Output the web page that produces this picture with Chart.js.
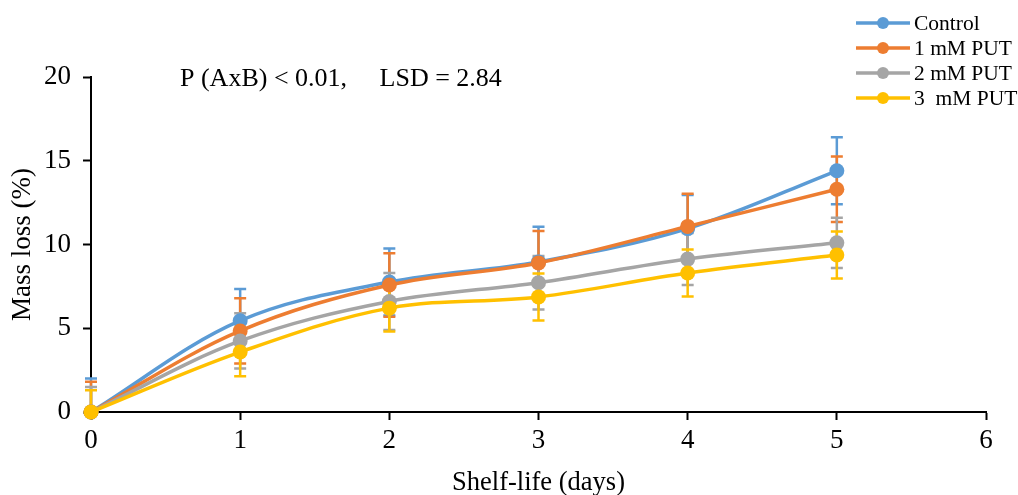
<!DOCTYPE html>
<html>
<head>
<meta charset="utf-8">
<script src="https://cdn.jsdelivr.net/npm/chart.js@4.4.1/dist/chart.umd.min.js"></script>
<style>
  html, body { margin: 0; padding: 0; background: #fff; }
  #wrap { width: 1018px; height: 495px; }
</style>
</head>
<body>
<div id="wrap"><canvas id="chart1"></canvas></div>
<script>
// Shelf-life days and mass loss (%) per treatment
const days = [0, 1, 2, 3, 4, 5];
const seriesNames = ["Control", "1 mM PUT", "2 mM PUT", "3  mM PUT"];
const control = [0, 5.45, 7.76, 8.96, 10.95, 14.4];
const put1 = [0, 4.84, 7.58, 8.9, 11.08, 13.3];
const put2 = [0, 4.24, 6.6, 7.72, 9.13, 10.1];
const put3 = [0, 3.58, 6.2, 6.87, 8.3, 9.37];
// error bar half-widths (±)
const controlErr = [2.0, 1.9, 2.0, 2.1, 2.0, 2.0];
const put1Err = [1.8, 1.95, 1.9, 1.9, 1.95, 1.95];
const put2Err = [1.5, 1.65, 1.7, 1.6, 1.55, 1.5];
const put3Err = [1.3, 1.45, 1.4, 1.4, 1.4, 1.4];
const yTicks = [0, 5, 10, 15, 20];
const xTicks = [0, 1, 2, 3, 4, 5, 6];
const statsNote = "P (AxB) < 0.01,     LSD = 2.84";

const colors = ["#5B9BD5", "#ED7D31", "#A5A5A5", "#FFC000"];
const values = [control, put1, put2, put3];
const errors = [controlErr, put1Err, put2Err, put3Err];
const serif = "'Liberation Serif', 'Times New Roman', serif";

// later series sit on top of earlier ones
const datasets = values.map((vals, i) => ({
    label: seriesNames[i],
    data: days.map((d, j) => ({ x: d, y: vals[j] })),
    borderColor: colors[i],
    backgroundColor: colors[i],
    borderWidth: 3.5,
    pointRadius: 7.5,
    pointHoverRadius: 7.5,
    pointBorderWidth: 0,
    tension: 0.35,
    clip: false,
    order: values.length - i,
    errors: errors[i]
}));

// vertical error bars with caps, drawn under the lines
const errorBars = {
    id: "errorBars",
    beforeDatasetsDraw(chart) {
        const { ctx, chartArea, scales: { x, y } } = chart;
        ctx.save();
        ctx.beginPath();
        ctx.rect(chartArea.left - 10, chartArea.top - 40, chartArea.width + 20, chartArea.height + 40);
        ctx.clip();
        chart.data.datasets.forEach(ds => {
            ctx.strokeStyle = ds.borderColor;
            ctx.lineWidth = 2.5;
            ds.data.forEach((p, j) => {
                const e = ds.errors[j];
                const px = x.getPixelForValue(p.x);
                const hi = y.getPixelForValue(p.y + e);
                const lo = y.getPixelForValue(Math.max(0, p.y - e));
                ctx.beginPath();
                ctx.moveTo(px, hi);
                ctx.lineTo(px, lo);
                ctx.moveTo(px - 6, hi);
                ctx.lineTo(px + 6, hi);
                if (p.y - e > 0) {
                    ctx.moveTo(px - 6, lo);
                    ctx.lineTo(px + 6, lo);
                }
                ctx.stroke();
            });
        });
        ctx.restore();
    }
};

// legend (line with marker) and the statistics note
const extras = {
    id: "extras",
    afterDraw(chart) {
        const ctx = chart.ctx;
        ctx.save();
        ctx.font = "21.5px " + serif;
        ctx.textBaseline = "middle";
        ctx.textAlign = "left";
        chart.data.datasets.forEach((ds, i) => {
            const yy = 23 + i * 25;
            ctx.strokeStyle = ds.borderColor;
            ctx.lineWidth = 3.5;
            ctx.beginPath();
            ctx.moveTo(856, yy);
            ctx.lineTo(910, yy);
            ctx.stroke();
            ctx.fillStyle = ds.borderColor;
            ctx.beginPath();
            ctx.arc(883, yy, 6, 0, Math.PI * 2);
            ctx.fill();
            ctx.fillStyle = "#000";
            ctx.fillText(ds.label, 914, yy + 1);
        });
        ctx.font = "26px " + serif;
        ctx.fillText(statsNote, 180, 79);
        ctx.restore();
    }
};

new Chart(document.getElementById("chart1"), {
    type: "line",
    data: { datasets },
    options: {
        responsive: true,
        maintainAspectRatio: false,
        animation: false,
        events: [],
        layout: { padding: { top: 77, right: 32, left: 0, bottom: 0 } },
        plugins: { legend: { display: false }, tooltip: { enabled: false } },
        scales: {
            x: {
                type: "linear",
                min: 0,
                max: 6,
                afterBuildTicks: s => { s.ticks = xTicks.map(v => ({ value: v })); },
                afterFit: s => { s.height = 83; },
                grid: { drawOnChartArea: false, color: "#000", tickLength: 8, tickWidth: 2 },
                border: { color: "#000", width: 2 },
                ticks: { color: "#000", font: { family: serif, size: 27 }, padding: 5, maxRotation: 0 },
                title: {
                    display: true,
                    text: "Shelf-life (days)",
                    color: "#000",
                    font: { family: serif, size: 26.5, lineHeight: 1.0 },
                    padding: { top: 0, bottom: -1 }
                }
            },
            y: {
                min: 0,
                max: 20,
                afterBuildTicks: s => { s.ticks = yTicks.map(v => ({ value: v })); },
                afterFit: s => { s.width = 91; },
                grid: { drawOnChartArea: false, color: "#000", tickLength: 8, tickWidth: 2 },
                border: { color: "#000", width: 2 },
                ticks: { color: "#000", font: { family: serif, size: 27 }, padding: 12 },
                title: {
                    display: true,
                    text: "Mass loss (%)",
                    color: "#000",
                    font: { family: serif, size: 27, lineHeight: 1.0 },
                    padding: { top: 9, bottom: 0 }
                }
            }
        }
    },
    plugins: [errorBars, extras]
});
</script>
</body>
</html>
